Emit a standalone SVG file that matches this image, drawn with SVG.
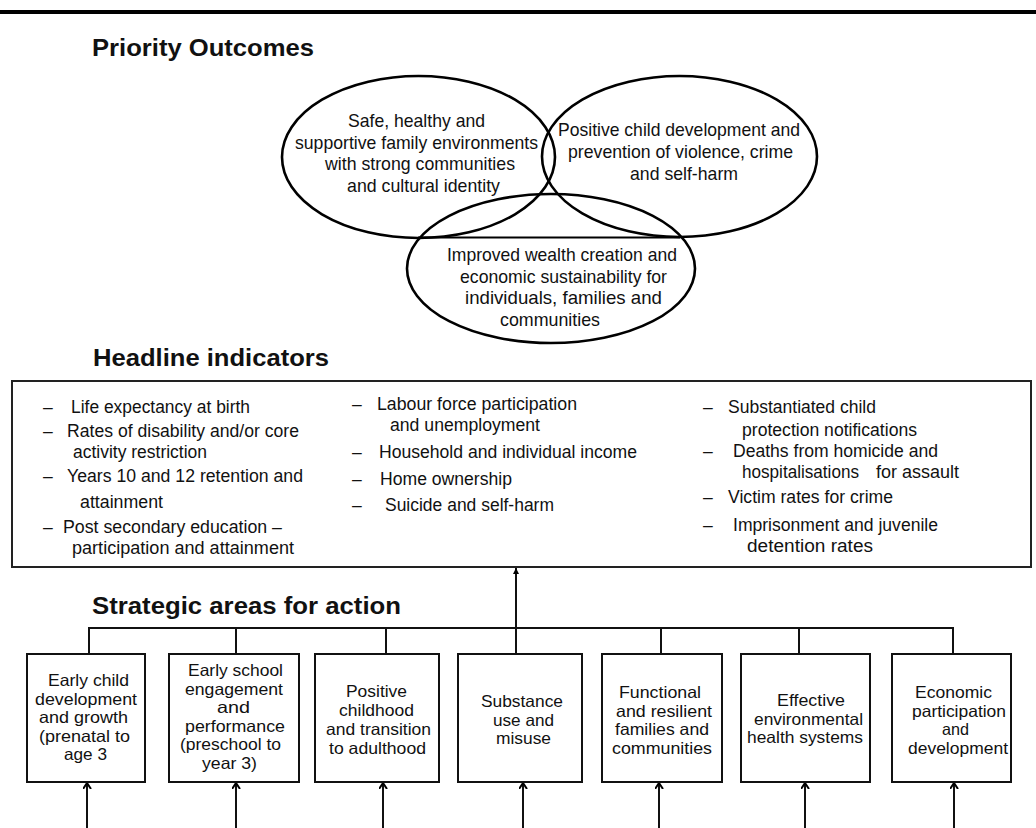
<svg xmlns="http://www.w3.org/2000/svg" width="1036" height="828" viewBox="0 0 1036 828">
<style>
.h{font-family:"Liberation Sans",Arial,sans-serif;font-weight:bold;font-size:24px;fill:#111}
.e{font-family:"Liberation Sans",Arial,sans-serif;font-size:19px;fill:#111}
.i{font-family:"Liberation Sans",Arial,sans-serif;font-size:17.5px;fill:#111}
.b{font-family:"Liberation Sans",Arial,sans-serif;font-size:16.5px;fill:#111}
.ell{fill:none;stroke:#000;stroke-width:2.6}
.box{fill:#fff;stroke:#111;stroke-width:2}
.con{fill:none;stroke:#111;stroke-width:2}
</style>
<defs>
<marker id="open" markerUnits="userSpaceOnUse" viewBox="0 0 6 9" refX="6" refY="4.5" markerWidth="6" markerHeight="9" orient="auto">
<path d="M0,0.5 L6,4.5 L0,8.5" fill="none" stroke="#000" stroke-width="2"/>
</marker>
<marker id="solid" markerUnits="userSpaceOnUse" viewBox="0 0 6 6" refX="6" refY="3" markerWidth="6" markerHeight="6" orient="auto">
<path d="M0,0 L6,3 L0,6 Z" fill="#000"/>
</marker>
</defs>
<rect x="0" y="10" width="1036" height="4" fill="#000"/>

<text class="h" x="92" y="56" textLength="222" lengthAdjust="spacingAndGlyphs">Priority Outcomes</text>

<g id="outcome-family">
<ellipse class="ell" cx="418.5" cy="157" rx="136.5" ry="81"/>
<text class="e" x="348" y="127" textLength="137" lengthAdjust="spacingAndGlyphs">Safe, healthy and</text>
<text class="e" x="295" y="148.5" textLength="243" lengthAdjust="spacingAndGlyphs">supportive family environments</text>
<text class="e" x="325" y="170" textLength="190" lengthAdjust="spacingAndGlyphs">with strong communities</text>
<text class="e" x="347" y="191.5" textLength="153" lengthAdjust="spacingAndGlyphs">and cultural identity</text>
</g>
<g id="outcome-child">
<ellipse class="ell" cx="679.5" cy="156.5" rx="137.5" ry="80.5"/>
<text class="e" x="558" y="136" textLength="242" lengthAdjust="spacingAndGlyphs">Positive child development and</text>
<text class="e" x="568" y="158" textLength="225" lengthAdjust="spacingAndGlyphs">prevention of violence, crime</text>
<text class="e" x="630" y="180" textLength="108" lengthAdjust="spacingAndGlyphs">and self-harm</text>
</g>
<g id="outcome-wealth">
<ellipse class="ell" cx="551" cy="268.5" rx="144" ry="74.5"/>
<line x1="418" y1="237.5" x2="680" y2="237.5" stroke="#000" stroke-width="2"/>
<text class="e" x="447" y="261" textLength="230" lengthAdjust="spacingAndGlyphs">Improved wealth creation and</text>
<text class="e" x="460" y="282.5" textLength="207" lengthAdjust="spacingAndGlyphs">economic sustainability for</text>
<text class="e" x="465" y="304" textLength="197" lengthAdjust="spacingAndGlyphs">individuals, families and</text>
<text class="e" x="500" y="326" textLength="100" lengthAdjust="spacingAndGlyphs">communities</text>
</g>

<text class="h" x="93" y="366" textLength="236" lengthAdjust="spacingAndGlyphs">Headline indicators</text>

<g id="headline-indicators">
<rect x="12" y="381" width="1019" height="186" fill="#fff" stroke="#222" stroke-width="2"/>
<text class="i" x="43" y="413">–</text>
<text class="i" x="71" y="413" textLength="179" lengthAdjust="spacingAndGlyphs">Life expectancy at birth</text>
<text class="i" x="43" y="437">–</text>
<text class="i" x="67" y="437" textLength="232" lengthAdjust="spacingAndGlyphs">Rates of disability and/or core</text>
<text class="i" x="73" y="457.5" textLength="134" lengthAdjust="spacingAndGlyphs">activity restriction</text>
<text class="i" x="43" y="482">–</text>
<text class="i" x="67" y="482" textLength="236" lengthAdjust="spacingAndGlyphs">Years 10 and 12 retention and</text>
<text class="i" x="80" y="508" textLength="83" lengthAdjust="spacingAndGlyphs">attainment</text>
<text class="i" x="43" y="533">–</text>
<text class="i" x="63" y="533" textLength="219" lengthAdjust="spacingAndGlyphs">Post secondary education –</text>
<text class="i" x="72" y="553.5" textLength="222" lengthAdjust="spacingAndGlyphs">participation and attainment</text>

<text class="i" x="352" y="410">–</text>
<text class="i" x="377" y="410" textLength="200" lengthAdjust="spacingAndGlyphs">Labour force participation</text>
<text class="i" x="390" y="431" textLength="150" lengthAdjust="spacingAndGlyphs">and unemployment</text>
<text class="i" x="352" y="458">–</text>
<text class="i" x="379" y="458" textLength="258" lengthAdjust="spacingAndGlyphs">Household and individual income</text>
<text class="i" x="352" y="485">–</text>
<text class="i" x="380" y="485" textLength="132" lengthAdjust="spacingAndGlyphs">Home ownership</text>
<text class="i" x="352" y="511">–</text>
<text class="i" x="385" y="511" textLength="169" lengthAdjust="spacingAndGlyphs">Suicide and self-harm</text>

<text class="i" x="703" y="413">–</text>
<text class="i" x="728" y="413" textLength="148" lengthAdjust="spacingAndGlyphs">Substantiated child</text>
<text class="i" x="742" y="436" textLength="175" lengthAdjust="spacingAndGlyphs">protection notifications</text>
<text class="i" x="703" y="457">–</text>
<text class="i" x="733" y="457" textLength="205" lengthAdjust="spacingAndGlyphs">Deaths from homicide and</text>
<text class="i" x="742" y="478" textLength="117" lengthAdjust="spacingAndGlyphs">hospitalisations</text>
<text class="i" x="876" y="478" textLength="83" lengthAdjust="spacingAndGlyphs">for assault</text>
<text class="i" x="703" y="503">–</text>
<text class="i" x="728" y="503" textLength="165" lengthAdjust="spacingAndGlyphs">Victim rates for crime</text>
<text class="i" x="703" y="531">–</text>
<text class="i" x="733" y="531" textLength="205" lengthAdjust="spacingAndGlyphs">Imprisonment and juvenile</text>
<text class="i" x="747" y="552" textLength="126" lengthAdjust="spacingAndGlyphs">detention rates</text>
</g>

<text class="h" x="92" y="614" textLength="309" lengthAdjust="spacingAndGlyphs">Strategic areas for action</text>

<g id="connectors">
<polyline class="con" points="89,654 89,628 953,628 953,654"/>
<line class="con" x1="236" y1="628" x2="236" y2="654"/>
<line class="con" x1="386" y1="628" x2="386" y2="654"/>
<line class="con" x1="661" y1="628" x2="661" y2="654"/>
<line class="con" x1="799" y1="628" x2="799" y2="654"/>
<line class="con" x1="516" y1="654" x2="516" y2="568" marker-end="url(#solid)"/>
<line class="con" x1="87" y1="828" x2="87" y2="783" marker-end="url(#open)"/>
<line class="con" x1="236" y1="828" x2="236" y2="783" marker-end="url(#open)"/>
<line class="con" x1="383" y1="828" x2="383" y2="783" marker-end="url(#open)"/>
<line class="con" x1="523" y1="828" x2="523" y2="783" marker-end="url(#open)"/>
<line class="con" x1="659" y1="828" x2="659" y2="783" marker-end="url(#open)"/>
<line class="con" x1="805" y1="828" x2="805" y2="783" marker-end="url(#open)"/>
<line class="con" x1="954" y1="828" x2="954" y2="783" stroke-width="3" marker-end="url(#open)"/>
</g>

<g id="area-early-child">
<rect class="box" x="27" y="654" width="118" height="128"/>
<text class="b" x="48" y="686" textLength="81" lengthAdjust="spacingAndGlyphs">Early child</text>
<text class="b" x="35" y="704.5" textLength="102" lengthAdjust="spacingAndGlyphs">development</text>
<text class="b" x="39" y="723" textLength="89" lengthAdjust="spacingAndGlyphs">and growth</text>
<text class="b" x="39" y="741.5" textLength="91" lengthAdjust="spacingAndGlyphs">(prenatal to</text>
<text class="b" x="64" y="760" textLength="43" lengthAdjust="spacingAndGlyphs">age 3</text>
</g>
<g id="area-early-school">
<rect class="box" x="169" y="654" width="130" height="128"/>
<text class="b" x="188" y="676" textLength="95" lengthAdjust="spacingAndGlyphs">Early school</text>
<text class="b" x="185" y="694.5" textLength="98" lengthAdjust="spacingAndGlyphs">engagement</text>
<text class="b" x="217" y="713" textLength="33" lengthAdjust="spacingAndGlyphs">and</text>
<text class="b" x="185" y="731.5" textLength="100" lengthAdjust="spacingAndGlyphs">performance</text>
<text class="b" x="180" y="750" textLength="101" lengthAdjust="spacingAndGlyphs">(preschool to</text>
<text class="b" x="202" y="768.5" textLength="55" lengthAdjust="spacingAndGlyphs">year 3)</text>
</g>
<g id="area-positive-childhood">
<rect class="box" x="315" y="654" width="124" height="128"/>
<text class="b" x="346" y="697" textLength="61" lengthAdjust="spacingAndGlyphs">Positive</text>
<text class="b" x="339" y="716" textLength="75" lengthAdjust="spacingAndGlyphs">childhood</text>
<text class="b" x="326" y="735" textLength="105" lengthAdjust="spacingAndGlyphs">and transition</text>
<text class="b" x="329" y="754" textLength="97" lengthAdjust="spacingAndGlyphs">to adulthood</text>
</g>
<g id="area-substance">
<rect class="box" x="458" y="654" width="124" height="128"/>
<text class="b" x="481" y="707" textLength="82" lengthAdjust="spacingAndGlyphs">Substance</text>
<text class="b" x="493" y="725.5" textLength="61" lengthAdjust="spacingAndGlyphs">use and</text>
<text class="b" x="496" y="744" textLength="55" lengthAdjust="spacingAndGlyphs">misuse</text>
</g>
<g id="area-families">
<rect class="box" x="602" y="654" width="120" height="128"/>
<text class="b" x="619" y="698" textLength="82" lengthAdjust="spacingAndGlyphs">Functional</text>
<text class="b" x="616" y="716.5" textLength="96" lengthAdjust="spacingAndGlyphs">and resilient</text>
<text class="b" x="615" y="735" textLength="94" lengthAdjust="spacingAndGlyphs">families and</text>
<text class="b" x="612" y="753.5" textLength="100" lengthAdjust="spacingAndGlyphs">communities</text>
</g>
<g id="area-environmental">
<rect class="box" x="741" y="654" width="129" height="128"/>
<text class="b" x="777" y="706" textLength="68" lengthAdjust="spacingAndGlyphs">Effective</text>
<text class="b" x="754" y="724.5" textLength="109" lengthAdjust="spacingAndGlyphs">environmental</text>
<text class="b" x="747" y="743" textLength="116" lengthAdjust="spacingAndGlyphs">health systems</text>
</g>
<g id="area-economic">
<rect class="box" x="892" y="654" width="119" height="128"/>
<text class="b" x="915" y="698" textLength="77" lengthAdjust="spacingAndGlyphs">Economic</text>
<text class="b" x="912" y="716.5" textLength="94" lengthAdjust="spacingAndGlyphs">participation</text>
<text class="b" x="942" y="735" textLength="27" lengthAdjust="spacingAndGlyphs">and</text>
<text class="b" x="908" y="753.5" textLength="100" lengthAdjust="spacingAndGlyphs">development</text>
</g>
</svg>
